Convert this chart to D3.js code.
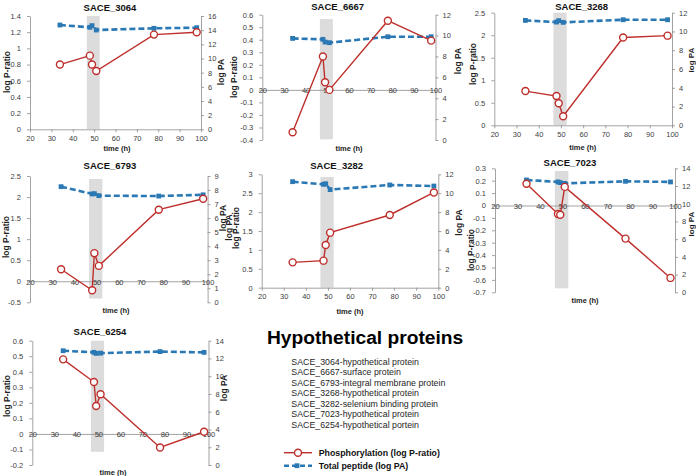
<!DOCTYPE html>
<html>
<head>
<meta charset="utf-8">
<script src="https://cdn.jsdelivr.net/npm/d3@7"></script>
<style>
  html, body { margin: 0; padding: 0; background: #fff; }
  text { font-family: "Liberation Sans", Arial, sans-serif; }
</style>
</head>
<body>
<script>
// ---------------- DATA ----------------
const times = [34, 48, 49, 51, 78, 98];
const xTicks = [20, 30, 40, 50, 60, 70, 80, 90, 100];

const names = ["SACE_3064", "SACE_6667", "SACE_3268", "SACE_6793", "SACE_3282", "SACE_7023", "SACE_6254"];

// Phosphorylation (log P-ratio)
const pr3064 = [0.80, 0.91, 0.80, 0.72, 1.17, 1.20];
const pr6667 = [-0.338, 0.266, 0.061, 0.0, 0.552, 0.393];
const pr3268 = [0.76, 0.65, 0.49, 0.20, 1.95, 1.99];
const pr6793 = [0.286, -0.214, 0.667, 0.365, 1.70, 1.96];
const pr3282 = [0.67, 0.715, 1.13, 1.456, 1.924, 2.52];
const pr7023 = [0.176, -0.068, -0.075, 0.15, -0.267, -0.584];
const pr6254 = [0.48, 0.334, 0.18, 0.255, -0.087, 0.014];

// Total peptide (log PA)
const pa3064 = [14.73, 14.4, 14.64, 14.02, 14.26, 14.35];
const pa6667 = [9.73, 9.64, 9.38, 9.32, 9.89, 9.89];
const pa3268 = [11.18, 11.0, 11.15, 10.97, 11.25, 11.25];
const pa6793 = [8.24, 7.72, 7.74, 7.6, 7.57, 7.66];
const pa3282 = [11.22, 10.94, 11.0, 10.38, 10.87, 10.76];
const pa7023 = [12.68, 12.46, 12.38, 12.3, 12.53, 12.46];
const pa6254 = [12.87, 12.69, 12.57, 12.6, 12.77, 12.69];

// Axis tick labels
const lt3064 = [0, 0.2, 0.4, 0.6, 0.8, 1, 1.2, 1.4];
const lt6667 = [-0.4, -0.3, -0.2, -0.1, 0, 0.1, 0.2, 0.3, 0.4, 0.5, 0.6];
const lt3268 = [0, 0.5, 1, 1.5, 2, 2.5];
const lt6793 = [-0.5, 0, 0.5, 1, 1.5, 2, 2.5];
const lt3282 = [0, 0.5, 1, 1.5, 2, 2.5, 3];
const lt7023 = [-0.7, -0.6, -0.5, -0.4, -0.3, -0.2, -0.1, 0, 0.1, 0.2, 0.3];
const lt6254 = [-0.2, -0.1, 0, 0.1, 0.2, 0.3, 0.4, 0.5, 0.6];

const rt3064 = [0, 2, 4, 6, 8, 10, 12, 14, 16];
const rt6667 = [0, 2, 4, 6, 8, 10, 12];
const rt3268 = [0, 2, 4, 6, 8, 10, 12];
const rt6793 = [0, 1, 2, 3, 4, 5, 6, 7, 8, 9];
const rt3282 = [0, 2, 4, 6, 8, 10, 12];
const rt7023 = [0, 2, 4, 6, 8, 10, 12, 14];
const rt6254 = [0, 2, 4, 6, 8, 10, 12, 14];

// shaded time window (h) and its vertical extent in log P-ratio units
const bandTime = [46.6, 52.6];
const bandY3064 = [0, 1.4];
const bandY6667 = [-0.395, 0.565];
const bandY3268 = [0, 2.5];
const bandY6793 = [-0.41, 2.43];
const bandY3282 = [0, 2.93];
const bandY7023 = [-0.668, 0.278];
const bandY6254 = [-0.115, 0.6];

const proteinList = [
  "SACE_3064-hypothetical protein",
  "SACE_6667-surface protein",
  "SACE_6793-integral membrane protein",
  "SACE_3268-hypothetical protein",
  "SACE_3282-selenium binding protein",
  "SACE_7023-hypothetical protein",
  "SACE_6254-hypothetical portein"
];
const legendLabels = ["Phosphorylation (log P-ratio)", "Total peptide (log PA)"];
const mainTitle = "Hypothetical proteins";

// ---------------- LAYOUT ----------------
const panels = [
  { name: names[0], pr: pr3064, pa: pa3064, lt: lt3064, rt: rt3064, band: bandY3064,
    L: 30, R: 201, T: 16, B: 129.3, tx: 110, ty: 10.5, lyx: 7, lyy: 72, ryx: 221.5, ryy: 72, tmx: 117, tmy: 151 },
  { name: names[1], pr: pr6667, pa: pa6667, lt: lt6667, rt: rt6667, band: bandY6667,
    L: 262.3, R: 435.5, T: 14.7, B: 140, tx: 337.7, ty: 10, lyx: 234, lyy: 77, ryx: 458.5, ryy: 61, tmx: 349, tmy: 150.5 },
  { name: names[2], pr: pr3268, pa: pa3268, lt: lt3268, rt: rt3268, band: bandY3268,
    L: 494.3, R: 672, T: 12.7, B: 125.3, tx: 581.7, ty: 10, lyx: 473, lyy: 64, ryx: 691.5, ryy: 60, tmx: 582.7, tmy: 149.5 },
  { name: names[3], pr: pr6793, pa: pa6793, lt: lt6793, rt: rt6793, band: bandY6793,
    L: 30, R: 207.6, T: 176, B: 302.3, tx: 110, ty: 168.5, lyx: 6, lyy: 237, ryx: 223.5, ryy: 218, tmx: 116, tmy: 313 },
  { name: names[4], pr: pr3282, pa: pa3282, lt: lt3282, rt: rt3282, band: bandY3282,
    L: 261.7, R: 438.3, T: 174.3, B: 287.7, tx: 336.7, ty: 168.5, lyx: 236, lyy: 228, ryx: 459, ryy: 222.5, tmx: 350, tmy: 313.5,
    extraLeft: { x: 229.5, y: 227.5, text: "log PA" } },
  { name: names[5], pr: pr7023, pa: pa7023, lt: lt7023, rt: rt7023, band: bandY7023,
    L: 495, R: 675, T: 168.3, B: 292.3, tx: 570, ty: 166, lyx: 471.5, lyy: 250, ryx: 691.5, ryy: 224, tmx: 585, tmy: 303 },
  { name: names[6], pr: pr6254, pa: pa6254, lt: lt6254, rt: rt6254, band: bandY6254,
    L: 32.3, R: 208.5, T: 340.7, B: 465, tx: 100, ty: 335, lyx: 7, lyy: 396, ryx: 224, ryy: 388, tmx: 113, tmy: 474.5 }
];

const RED = "#BE2F2C";
const BLUE = "#2A78B4";
const AXIS = "#8C8C8C";
const TICKTXT = "#404040";

const W = 696, H = 476;
const svg = d3.select("body").append("svg").attr("width", W).attr("height", H);
svg.append("rect").attr("width", W).attr("height", H).attr("fill", "#fff");

const fmt = v => String(+v.toFixed(2));

panels.forEach(p => {
  const g = svg.append("g");
  const x = d3.scaleLinear().domain([20, 100]).range([p.L, p.R]);
  const lmin = d3.min(p.lt), lmax = d3.max(p.lt);
  const rmin = d3.min(p.rt), rmax = d3.max(p.rt);
  const yL = d3.scaleLinear().domain([lmin, lmax]).range([p.B, p.T]);
  const yR = d3.scaleLinear().domain([rmin, rmax]).range([p.B, p.T]);

  // shaded band
  g.append("rect")
    .attr("x", x(bandTime[0])).attr("width", x(bandTime[1]) - x(bandTime[0]))
    .attr("y", yL(p.band[1])).attr("height", yL(p.band[0]) - yL(p.band[1]))
    .attr("fill", "#DCDCDC");

  // axes
  const styleAxis = sel => {
    sel.selectAll("path.domain").attr("stroke", AXIS).attr("stroke-width", 0.8);
    sel.selectAll(".tick line").attr("stroke", AXIS).attr("stroke-width", 0.8);
    sel.selectAll(".tick text").attr("fill", TICKTXT).style("font-size", "7.5px")
      .style("font-family", '"Liberation Sans", Arial, sans-serif');
  };
  const la = g.append("g").attr("transform", `translate(${p.L},0)`)
    .call(d3.axisLeft(yL).tickValues(p.lt).tickFormat(fmt).tickSize(3).tickSizeOuter(0).tickPadding(6));
  styleAxis(la);
  const ra = g.append("g").attr("transform", `translate(${p.R},0)`)
    .call(d3.axisRight(yR).tickValues(p.rt).tickFormat(fmt).tickSize(3).tickSizeOuter(0).tickPadding(4));
  styleAxis(ra);

  const zeroAxis = lmin < 0;
  const xy = zeroAxis ? yL(0) : p.B;
  const xa = g.append("g").attr("transform", `translate(0,${xy})`)
    .call(d3.axisBottom(x).tickValues(xTicks).tickFormat(fmt).tickSize(3).tickSizeOuter(0));
  styleAxis(xa);
  xa.selectAll(".tick text").attr("dy", null).attr("y", zeroAxis ? 3.3 : 11.3);

  // blue dashed total peptide
  const lineB = d3.line().x((d, i) => x(times[i])).y(d => yR(d));
  g.append("path").datum(p.pa).attr("d", lineB)
    .attr("fill", "none").attr("stroke", BLUE).attr("stroke-width", 2.6).attr("stroke-dasharray", "6,3");
  g.selectAll("rect.sq").data(p.pa).enter().append("rect").attr("class", "sq")
    .attr("x", (d, i) => x(times[i]) - 2.4).attr("y", d => yR(d) - 2.4)
    .attr("width", 4.8).attr("height", 4.8).attr("fill", BLUE);

  // red phosphorylation
  const lineR = d3.line().x((d, i) => x(times[i])).y(d => yL(d));
  g.append("path").datum(p.pr).attr("d", lineR)
    .attr("fill", "none").attr("stroke", RED).attr("stroke-width", 1.4);
  g.selectAll("circle.pt").data(p.pr).enter().append("circle").attr("class", "pt")
    .attr("cx", (d, i) => x(times[i])).attr("cy", d => yL(d)).attr("r", 3.5)
    .attr("fill", "#fff").attr("stroke", RED).attr("stroke-width", 1.4);

  // titles
  g.append("text").attr("x", p.tx).attr("y", p.ty).attr("text-anchor", "middle")
    .style("font-size", "9.5px").style("font-weight", "bold").attr("fill", "#111").text(p.name);
  g.append("text").attr("x", p.tmx).attr("y", p.tmy).attr("text-anchor", "middle")
    .style("font-size", "7.5px").style("font-weight", "bold").attr("fill", "#222").text("time (h)");
  const vlabel = (cx, cy, t, fs) => g.append("text")
    .attr("transform", `translate(${cx},${cy}) rotate(-90)`).attr("text-anchor", "middle").attr("dy", "0.35em")
    .style("font-size", (fs || 8.5) + "px").style("font-weight", "bold").attr("fill", "#222").text(t);
  vlabel(p.lyx, p.lyy, "log P-ratio");
  vlabel(p.ryx, p.ryy, "log PA", p.ryx > 690 ? 8 : 8.5);
  if (p.extraLeft) vlabel(p.extraLeft.x, p.extraLeft.y, p.extraLeft.text);
});

// main title
svg.append("text").attr("x", 267).attr("y", 344)
  .style("font-size", "19.2px").style("font-weight", "bold").attr("fill", "#000").text(mainTitle);

// protein list
svg.selectAll("text.list").data(proteinList).enter().append("text").attr("class", "list")
  .attr("x", 291.3).attr("y", (d, i) => 364.7 + i * 10.55)
  .style("font-size", "8.8px").attr("fill", "#262626").text(d => d);

// legend
const lg = svg.append("g");
lg.append("line").attr("x1", 284).attr("x2", 312).attr("y1", 452.7).attr("y2", 452.7)
  .attr("stroke", RED).attr("stroke-width", 1.4);
lg.append("circle").attr("cx", 298).attr("cy", 452.7).attr("r", 3.5)
  .attr("fill", "#fff").attr("stroke", RED).attr("stroke-width", 1.4);
lg.append("line").attr("x1", 284).attr("x2", 312).attr("y1", 465.7).attr("y2", 465.7)
  .attr("stroke", BLUE).attr("stroke-width", 2.6).attr("stroke-dasharray", "5,3");
lg.append("rect").attr("x", 297 - 2.4).attr("y", 465.7 - 2.4).attr("width", 4.8).attr("height", 4.8).attr("fill", BLUE);
lg.selectAll("text").data(legendLabels).enter().append("text")
  .attr("x", 318.7).attr("y", (d, i) => 455.6 + i * 13)
  .style("font-size", "8.8px").style("font-weight", "bold").attr("fill", "#111").text(d => d);
</script>
</body>
</html>
